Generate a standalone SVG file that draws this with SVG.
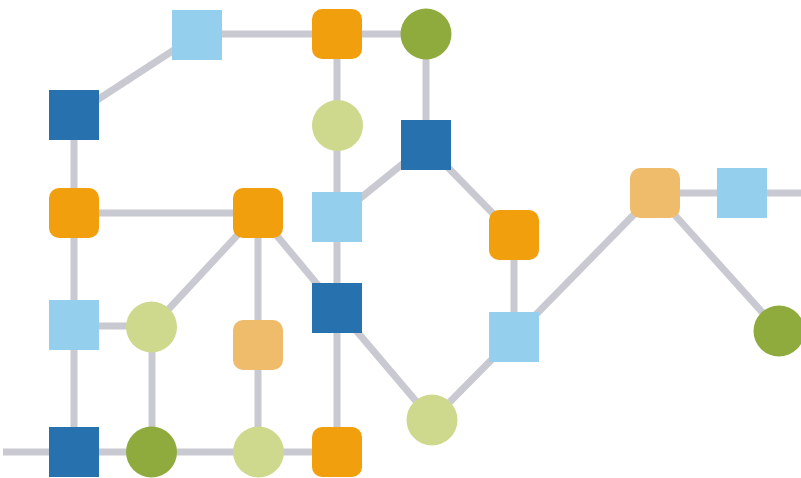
<svg xmlns="http://www.w3.org/2000/svg" width="801" height="478" viewBox="0 0 801 478">
<style>
.e{stroke:#c9c9d2;stroke-width:7;fill:none}
.lb{fill:#94cfee}
.db{fill:#2771ae}
.or{fill:#f29f0e}
.lo{fill:#efbc6b}
.ol{fill:#8fab3e}
.lg{fill:#cfd98e}
</style>
<rect width="801" height="478" fill="#ffffff"/>
<g id="connectors">
<line class="e" x1="197" y1="34" x2="337" y2="34"/>
<line class="e" x1="337" y1="34" x2="426" y2="34"/>
<line class="e" x1="197" y1="35" x2="74" y2="115"/>
<line class="e" x1="74" y1="115" x2="74" y2="452"/>
<line class="e" x1="337" y1="34" x2="337" y2="452"/>
<line class="e" x1="426" y1="34" x2="426" y2="145"/>
<line class="e" x1="426" y1="145" x2="337" y2="217"/>
<line class="e" x1="426" y1="145" x2="514" y2="235"/>
<line class="e" x1="514" y1="235" x2="514" y2="337"/>
<line class="e" x1="514" y1="337" x2="655" y2="193"/>
<line class="e" x1="655" y1="193" x2="801" y2="193"/>
<line class="e" x1="655" y1="193" x2="779" y2="331"/>
<line class="e" x1="514" y1="337" x2="432" y2="420"/>
<line class="e" x1="432" y1="420" x2="337" y2="308"/>
<line class="e" x1="74" y1="213" x2="258" y2="213"/>
<line class="e" x1="258" y1="213" x2="337" y2="308"/>
<line class="e" x1="258" y1="213" x2="152" y2="327"/>
<line class="e" x1="258" y1="213" x2="258" y2="452"/>
<line class="e" x1="74" y1="326" x2="152" y2="326"/>
<line class="e" x1="152" y1="327" x2="152" y2="452"/>
<line class="e" x1="3" y1="452" x2="337" y2="452"/>
</g>
<g id="n1"><rect class="lb" x="172" y="10" width="50" height="50"/></g>
<g id="n2"><rect class="or" x="312" y="9" width="50" height="50" rx="10"/></g>
<g id="n3"><circle class="ol" cx="426" cy="34" r="25.5"/></g>
<g id="n4"><rect class="db" x="49" y="90" width="50" height="50"/></g>
<g id="n5"><circle class="lg" cx="337.5" cy="125.5" r="25.5"/></g>
<g id="n6"><rect class="db" x="401" y="120" width="50" height="50"/></g>
<g id="n7"><rect class="or" x="49" y="188" width="50" height="50" rx="10"/></g>
<g id="n8"><rect class="or" x="233" y="188" width="50" height="50" rx="10"/></g>
<g id="n9"><rect class="lb" x="312" y="192" width="50" height="50"/></g>
<g id="n10"><rect class="or" x="489" y="210" width="50" height="50" rx="10"/></g>
<g id="n11"><rect class="lo" x="630" y="168" width="50" height="50" rx="10"/></g>
<g id="n12"><rect class="lb" x="717" y="168" width="50" height="50"/></g>
<g id="n13"><rect class="db" x="312" y="283" width="50" height="50"/></g>
<g id="n14"><rect class="lb" x="49" y="300" width="50" height="50"/></g>
<g id="n15"><circle class="lg" cx="151.5" cy="327" r="25.5"/></g>
<g id="n16"><rect class="lo" x="233" y="320" width="50" height="50" rx="10"/></g>
<g id="n17"><rect class="lb" x="489" y="312" width="50" height="50"/></g>
<g id="n18"><circle class="ol" cx="779" cy="331" r="25.5"/></g>
<g id="n19"><circle class="lg" cx="432" cy="420" r="25.5"/></g>
<g id="n20"><rect class="db" x="49" y="427" width="50" height="50"/></g>
<g id="n21"><circle class="ol" cx="151.5" cy="452" r="25.5"/></g>
<g id="n22"><circle class="lg" cx="258.5" cy="452" r="25.5"/></g>
<g id="n23"><rect class="or" x="312" y="427" width="50" height="50" rx="10"/></g>
</svg>
